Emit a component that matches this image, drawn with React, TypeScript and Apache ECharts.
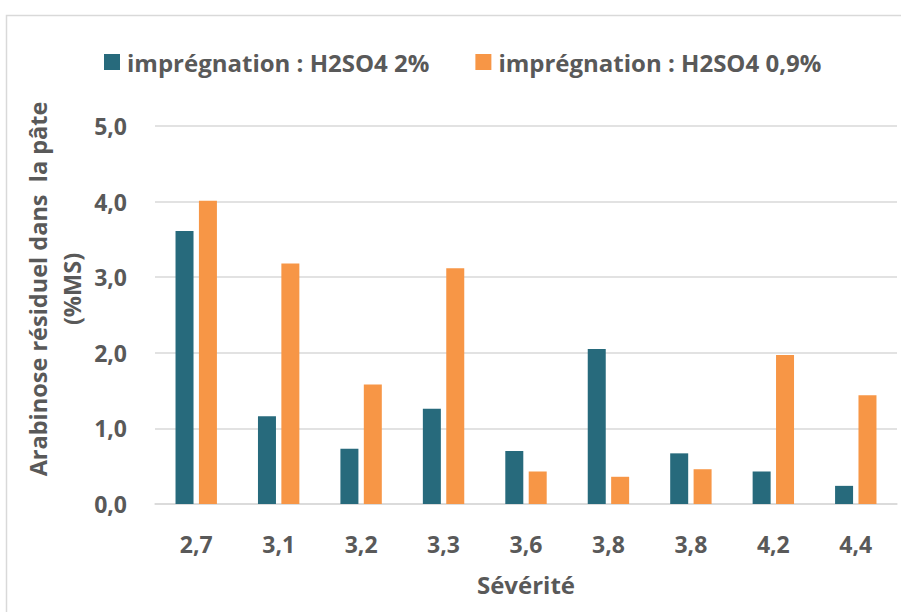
import React, { useEffect, useRef } from "react";
import * as echarts from "echarts";

const categories = ["2,7", "3,1", "3,2", "3,3", "3,6", "3,8", "3,8", "4,2", "4,4"];
const seriesNames = ["imprégnation : H2SO4 2%", "imprégnation : H2SO4 0,9%"];
const acid2 = [3.61, 1.16, 0.73, 1.26, 0.7, 2.05, 0.67, 0.43, 0.24];
const acid09 = [4.01, 3.18, 1.58, 3.12, 0.43, 0.36, 0.46, 1.97, 1.44];
const yTitleLines = ["Arabinose résiduel dans  la pâte", "(%MS)"];
const xTitle = "Sévérité";

const FONT = "'Open Sans', 'DejaVu Sans', sans-serif";
const TEXT = "#595959";

export default function App() {
  const ref = useRef<HTMLDivElement>(null);
  useEffect(() => {
    if (!ref.current) return;
    const chart = echarts.init(ref.current, null, { renderer: "svg" });
    chart.setOption({
      animation: false,
      backgroundColor: "#ffffff",
      textStyle: { fontFamily: FONT },
      legend: {
        left: 99,
        top: 45,
        itemWidth: 16,
        itemHeight: 16,
        itemGap: 46,
        icon: "rect",
        data: seriesNames,
        textStyle: {
          fontFamily: FONT,
          fontWeight: "bold",
          fontSize: 24,
          color: TEXT,
          padding: [0, 0, 0, 2],
        },
      },
      grid: { left: 155, right: 4, top: 126, bottom: 108, containLabel: false },
      xAxis: {
        type: "category",
        data: categories,
        axisLine: { lineStyle: { color: "#d9d9d9", width: 1.5 } },
        axisTick: { show: false },
        axisLabel: {
          margin: 28,
          fontFamily: FONT,
          fontWeight: "bold",
          fontSize: 23,
          color: TEXT,
          interval: 0,
        },
      },
      yAxis: {
        type: "value",
        min: 0,
        max: 5,
        interval: 1,
        axisLine: { show: false },
        axisTick: { show: false },
        splitLine: { lineStyle: { color: "#d9d9d9", width: 1.5 } },
        axisLabel: {
          margin: 28,
          fontFamily: FONT,
          fontWeight: "bold",
          fontSize: 23,
          color: TEXT,
          formatter: (v: number) => v.toFixed(1).replace(".", ","),
        },
      },
      series: [
        {
          name: seriesNames[0],
          type: "bar",
          data: acid2,
          barWidth: 18,
          barGap: "30%",
          itemStyle: { color: "#276A7C" },
        },
        {
          name: seriesNames[1],
          type: "bar",
          data: acid09,
          barWidth: 18,
          barGap: "30%",
          itemStyle: { color: "#F79646" },
        },
      ],
      graphic: [
        {
          type: "rect",
          shape: { x: 6.5, y: 15.5, width: 1200, height: 1200 },
          style: { fill: "none", stroke: "#d9d9d9", lineWidth: 1.5 },
          silent: true,
        },
        {
          type: "text",
          x: 38,
          y: 289,
          rotation: Math.PI / 2,
          style: {
            text: yTitleLines[0],
            fontFamily: FONT,
            fontWeight: "bold",
            fontSize: 23.5,
            fill: TEXT,
            textAlign: "center",
            textVerticalAlign: "middle",
          },
        },
        {
          type: "text",
          x: 72,
          y: 289,
          rotation: Math.PI / 2,
          style: {
            text: yTitleLines[1],
            fontFamily: FONT,
            fontWeight: "bold",
            fontSize: 23.5,
            fill: TEXT,
            textAlign: "center",
            textVerticalAlign: "middle",
          },
        },
        {
          type: "text",
          x: 526,
          y: 584,
          style: {
            text: xTitle,
            fontFamily: FONT,
            fontWeight: "bold",
            fontSize: 24,
            fill: TEXT,
            textAlign: "center",
            textVerticalAlign: "middle",
          },
        },
      ],
    });
    return () => chart.dispose();
  }, []);
  return (
    <div
      ref={ref}
      style={{ position: "absolute", left: 0, top: 0, width: 901, height: 612 }}
    />
  );
}
